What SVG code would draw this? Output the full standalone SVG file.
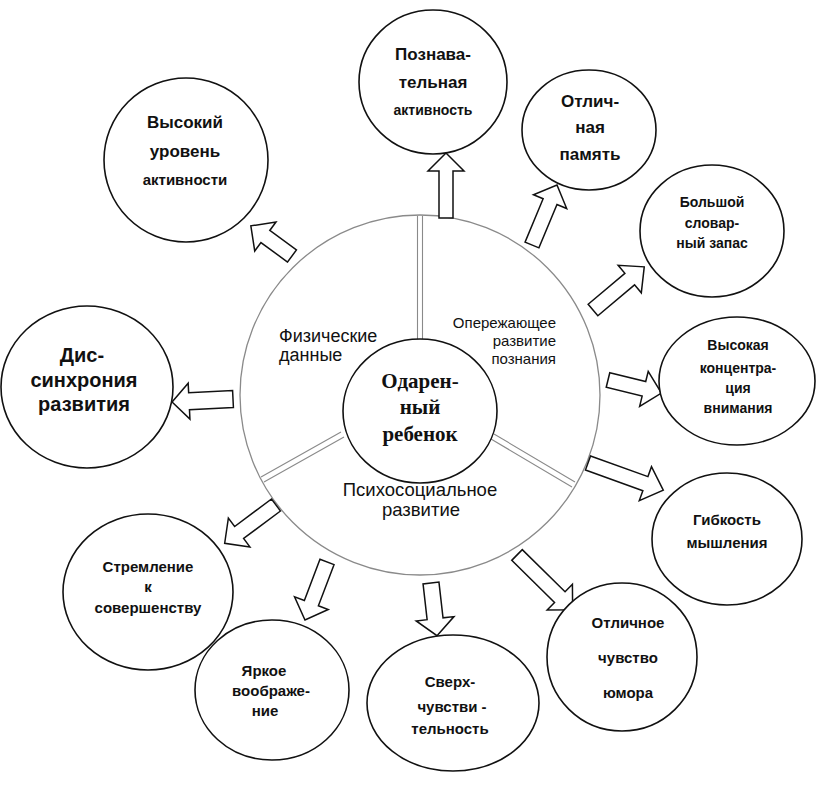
<svg xmlns="http://www.w3.org/2000/svg" width="817" height="794" viewBox="0 0 817 794">
<style>
.node{fill:#fff;stroke:#111;stroke-width:1.6}
.big{fill:#fff;stroke:#8a8a8a;stroke-width:1.3}
.div{stroke:#8a8a8a;stroke-width:1.1;fill:none}
.arr{fill:#fff;stroke:#111;stroke-width:1.5;stroke-linejoin:miter}
.t{font-family:"Liberation Sans",Arial,sans-serif;font-weight:bold;fill:#111;text-anchor:middle}
.seg{font-family:"Liberation Sans",Arial,sans-serif;fill:#111}
.ctr{font-family:"Liberation Serif","Times New Roman",serif;font-weight:bold;fill:#111;text-anchor:middle;font-size:21px}
</style>
<rect width="817" height="794" fill="#fff"/>
<g id="hub">
<circle class="big" cx="420" cy="395" r="180"/>
<path class="div" d="M417.5,216 V340 M422.5,216 V340"/>
<path class="div" d="M341,432 L261,477 M344,437 L264,482"/>
<path class="div" d="M494,434 L575,482 M491,439 L572,487"/>
<text class="seg" font-size="18" x="279" y="342">Физические</text>
<text class="seg" font-size="18" x="279" y="361">данные</text>
<text class="seg" font-size="15" text-anchor="end" x="556" y="328">Опережающее</text>
<text class="seg" font-size="15" text-anchor="end" x="556" y="346">развитие</text>
<text class="seg" font-size="15" text-anchor="end" x="556" y="364">познания</text>
<text class="seg" font-size="18.5" text-anchor="middle" x="420" y="496">Психосоциальное</text>
<text class="seg" font-size="18.5" text-anchor="middle" x="421" y="516">развитие</text>
</g>
<g id="center">
<ellipse class="node" cx="420" cy="411" rx="77" ry="72"/>
<text class="ctr" x="420" y="388">Одарен-</text>
<text class="ctr" x="420" y="414">ный</text>
<text class="ctr" x="420" y="441">ребенок</text>
</g>
<g id="connectors">
<path class="arr" transform="translate(292,256) rotate(-143.8)" d="M0,-7.5 H33 V-18 L51,0 L33,18 V7.5 H0 Z"/>
<path class="arr" transform="translate(446,218) rotate(-90)" d="M0,-7 H47 V-18 L65,0 L47,18 V7 H0 Z"/>
<path class="arr" transform="translate(532,245) rotate(-67.4)" d="M0,-7.5 H47 V-18 L65,0 L47,18 V7.5 H0 Z"/>
<path class="arr" transform="translate(593,310) rotate(-40.1)" d="M0,-7.5 H48 V-18 L67,0 L48,18 V7.5 H0 Z"/>
<path class="arr" transform="translate(608,380) rotate(13.8)" d="M0,-7.5 H37 V-18 L55,0 L37,18 V7.5 H0 Z"/>
<path class="arr" transform="translate(588,463) rotate(19.8)" d="M0,-7.5 H61 V-18 L80,0 L61,18 V7.5 H0 Z"/>
<path class="arr" transform="translate(517,555) rotate(44.5)" d="M0,-7.5 H60 V-18 L78,0 L60,18 V7.5 H0 Z"/>
<path class="arr" transform="translate(431,583) rotate(83.5)" d="M0,-8 H36 V-19 L53,0 L36,19 V8 H0 Z"/>
<path class="arr" transform="translate(327,562) rotate(110.8)" d="M0,-7.5 H44 V-18 L62,0 L44,18 V7.5 H0 Z"/>
<path class="arr" transform="translate(276,505) rotate(143.3)" d="M0,-7.5 H46 V-18 L64,0 L46,18 V7.5 H0 Z"/>
<path class="arr" transform="translate(233,399) rotate(177.2)" d="M0,-8.5 H44 V-18 L61,0 L44,18 V8.5 H0 Z"/>
</g>
<g id="n-activity">
<circle class="node" cx="186" cy="160" r="82"/>
<text class="t" font-size="17" x="185" y="128">Высокий</text>
<text class="t" font-size="17" x="185" y="157">уровень</text>
<text class="t" font-size="15" x="185" y="185">активности</text>
</g>
<g id="n-cognitive">
<ellipse class="node" cx="433" cy="82" rx="74" ry="72"/>
<text class="t" font-size="17" x="433" y="60">Познава-</text>
<text class="t" font-size="17" x="433" y="88">тельная</text>
<text class="t" font-size="14" x="433" y="115">активность</text>
</g>
<g id="n-memory">
<ellipse class="node" cx="589" cy="130" rx="67" ry="60"/>
<text class="t" font-size="17" x="590" y="107">Отлич-</text>
<text class="t" font-size="17" x="590" y="133">ная</text>
<text class="t" font-size="17" x="590" y="160">память</text>
</g>
<g id="n-vocab">
<ellipse class="node" cx="712" cy="231" rx="72" ry="66"/>
<text class="t" font-size="14" x="712" y="207">Большой</text>
<text class="t" font-size="14" x="712" y="228">словар-</text>
<text class="t" font-size="14" x="712" y="248">ный запас</text>
</g>
<g id="n-concentration">
<ellipse class="node" cx="737" cy="381" rx="78" ry="64"/>
<text class="t" font-size="14" x="738" y="350">Высокая</text>
<text class="t" font-size="14" x="738" y="373">концентра-</text>
<text class="t" font-size="14" x="738" y="393">ция</text>
<text class="t" font-size="14" x="738" y="413">внимания</text>
</g>
<g id="n-flexibility">
<ellipse class="node" cx="727" cy="539" rx="75" ry="66"/>
<text class="t" font-size="15" x="727" y="525">Гибкость</text>
<text class="t" font-size="15" x="727" y="548">мышления</text>
</g>
<g id="n-humor">
<ellipse class="node" cx="622" cy="657" rx="75" ry="74"/>
<text class="t" font-size="15" x="628" y="628">Отличное</text>
<text class="t" font-size="15" x="628" y="663">чувство</text>
<text class="t" font-size="15" x="628" y="698">юмора</text>
</g>
<g id="n-sensitivity">
<ellipse class="node" cx="453" cy="703" rx="86" ry="68"/>
<text class="t" font-size="15" x="450" y="687">Сверх-</text>
<text class="t" font-size="15" x="452" y="712">чувстви -</text>
<text class="t" font-size="15" x="450" y="734">тельность</text>
</g>
<g id="n-imagination">
<ellipse class="node" cx="272" cy="690" rx="77" ry="70"/>
<text class="t" font-size="15" x="264" y="676">Яркое</text>
<text class="t" font-size="15" x="271" y="696">воображе-</text>
<text class="t" font-size="15" x="265" y="716">ние</text>
</g>
<g id="n-perfection">
<ellipse class="node" cx="148" cy="592" rx="85" ry="78"/>
<text class="t" font-size="15" x="148" y="572">Стремление</text>
<text class="t" font-size="15" x="148" y="592">к</text>
<text class="t" font-size="15" x="148" y="613">совершенству</text>
</g>
<g id="n-dyssync">
<ellipse class="node" cx="87" cy="387" rx="86" ry="81"/>
<text class="t" font-size="20" x="82" y="362">Дис-</text>
<text class="t" font-size="20" x="84" y="387">синхрония</text>
<text class="t" font-size="20" x="84" y="411">развития</text>
</g>
</svg>
